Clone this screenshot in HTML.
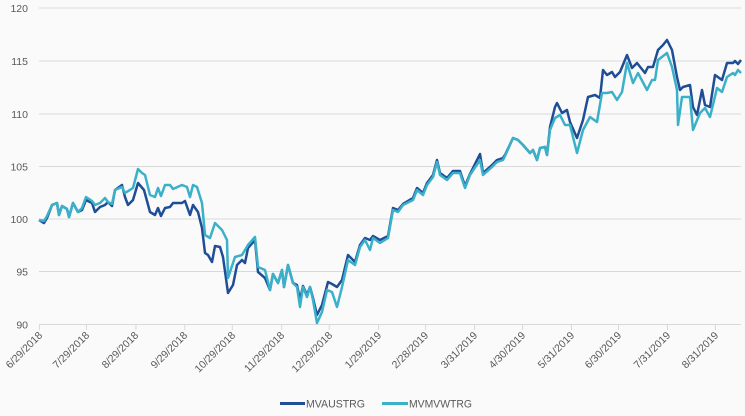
<!DOCTYPE html>
<html><head><meta charset="utf-8"><style>
html,body{margin:0;padding:0;background:#fafafa;}
svg{display:block;font-family:"Liberation Sans",sans-serif;}
</style></head><body>
<svg width="745" height="416" viewBox="0 0 745 416">
<rect width="745" height="416" fill="#fafafa"/>
<g stroke="#d9d9d9" stroke-width="1">
<line x1="39" y1="8" x2="741" y2="8"/>
<line x1="39" y1="61" x2="741" y2="61"/>
<line x1="39" y1="114" x2="741" y2="114"/>
<line x1="39" y1="166.5" x2="741" y2="166.5"/>
<line x1="39" y1="219" x2="741" y2="219"/>
<line x1="39" y1="271.5" x2="741" y2="271.5"/>
<line x1="39" y1="324.5" x2="741" y2="324.5"/>
<g>
<line x1="39.4" y1="324" x2="39.4" y2="330"/><line x1="86.5" y1="324" x2="86.5" y2="330"/><line x1="135.9" y1="324" x2="135.9" y2="330"/><line x1="184.8" y1="324" x2="184.8" y2="330"/><line x1="232.3" y1="324" x2="232.3" y2="330"/><line x1="281.7" y1="324" x2="281.7" y2="330"/><line x1="329.2" y1="324" x2="329.2" y2="330"/><line x1="378.6" y1="324" x2="378.6" y2="330"/><line x1="425.6" y1="324" x2="425.6" y2="330"/><line x1="474.6" y1="324" x2="474.6" y2="330"/><line x1="522.6" y1="324" x2="522.6" y2="330"/><line x1="571.5" y1="324" x2="571.5" y2="330"/><line x1="618.5" y1="324" x2="618.5" y2="330"/><line x1="667.5" y1="324" x2="667.5" y2="330"/><line x1="715.4" y1="324" x2="715.4" y2="330"/>
</g></g>
<g font-size="10.5" fill="#595959" text-anchor="end">
<text x="28" y="12">120</text><text x="28" y="65">115</text><text x="28" y="118">110</text><text x="28" y="170.5">105</text><text x="28" y="223">100</text><text x="28" y="275.5">95</text><text x="28" y="328.5">90</text>
</g>
<g font-size="10.5" fill="#595959" text-anchor="end">
<text transform="translate(43,336) rotate(-45)">6/29/2018</text>
<text transform="translate(90,336) rotate(-45)">7/29/2018</text>
<text transform="translate(139,336) rotate(-45)">8/29/2018</text>
<text transform="translate(188,336) rotate(-45)">9/29/2018</text>
<text transform="translate(236,336) rotate(-45)">10/29/2018</text>
<text transform="translate(285,336) rotate(-45)">11/29/2018</text>
<text transform="translate(333,336) rotate(-45)">12/29/2018</text>
<text transform="translate(382,336) rotate(-45)">1/29/2019</text>
<text transform="translate(429,336) rotate(-45)">2/28/2019</text>
<text transform="translate(478,336) rotate(-45)">3/31/2019</text>
<text transform="translate(526,336) rotate(-45)">4/30/2019</text>
<text transform="translate(575,336) rotate(-45)">5/31/2019</text>
<text transform="translate(622,336) rotate(-45)">6/30/2019</text>
<text transform="translate(671,336) rotate(-45)">7/31/2019</text>
<text transform="translate(719,336) rotate(-45)">8/31/2019</text>
</g>
<polyline fill="none" stroke="#1f4e96" stroke-width="2.5" stroke-linejoin="round" points="39,220 44,223 47,218 52,205 57,203 59,215 62,206 67,209 69,217 73,203 78,212 82,210 86,200 92,203 95,212 100,207 105,205 108,202 112,206 115,190 122,185 125,197 128,205 133,200 138,183 144,190 150,212 155,215 158,208 161,216 165,208 170,207 173,203 182,203 185,201 190,215 193,205 198,212 202,228 205,253 208,255 212,262 215,246 220,247 223,257 228,293 233,285 237,265 242,260 245,263 248,248 255,240 258,272 265,278 270,290 273,274 278,283 282,270 284,287 288,265 293,283 297,285 300,300 303,286 307,295 310,287 313,298 317,315 322,305 328,282 332,284 337,287 342,280 348,255 355,262 360,245 365,238 370,240 373,236 380,240 388,236 393,208 398,210 403,204 413,198 417,188 423,193 427,183 433,175 437,160 440,173 447,178 453,171 460,171 465,186 470,174 480,154 483,173 492,165 497,160 503,158 505,155 513,138 518,140 523,145 530,153 533,150 537,160 540,148 545,147 547,155 550,127 555,107 557,103 562,113 567,110 570,122 577,138 583,120 588,97 595,95 600,98 603,70 607,75 612,72 615,77 620,72 627,55 632,68 637,63 645,73 648,67 653,67 658,50 663,45 667,40 672,50 677,77 680,90 683,87 690,85 693,107 697,115 702,90 705,105 710,107 715,75 722,80 727,63 733,63 735,61 738,64 741,60"/>
<polyline fill="none" stroke="#3bb0c9" stroke-width="2.5" stroke-linejoin="round" points="39,220 44,221 47,216 52,205 57,203 59,215 62,206 67,209 69,217 73,203 78,212 82,208 86,197 92,201 95,205 100,203 105,198 108,202 112,204 115,190 122,187 125,193 133,188 138,169 142,173 145,175 150,195 155,197 158,188 161,196 165,185 170,185 173,189 182,185 187,187 190,197 193,185 197,187 202,203 205,235 210,238 215,223 222,230 227,240 228,278 235,257 242,255 248,245 255,237 258,267 265,270 270,290 273,274 278,283 282,270 284,287 288,265 293,283 297,287 300,307 303,287 307,297 310,287 313,300 317,323 322,312 327,290 332,292 337,307 342,287 348,260 355,265 360,247 365,240 370,250 373,238 380,243 388,238 393,210 398,212 403,205 413,200 417,190 423,195 427,185 433,177 437,162 440,175 447,180 453,173 460,173 465,188 470,175 480,160 483,175 492,167 497,162 503,160 505,156 513,138 518,140 523,145 530,153 533,150 537,160 540,148 545,147 547,155 550,130 555,118 560,115 565,125 570,125 577,153 583,130 590,117 597,122 602,93 607,93 612,92 617,100 622,92 627,63 633,83 638,73 647,90 652,80 655,80 658,60 667,53 672,67 677,90 678,125 682,97 690,97 693,130 700,113 705,108 710,117 717,88 722,92 727,77 733,73 735,75 738,70 741,73"/>
<line x1="280" y1="403.5" x2="305" y2="403.5" stroke="#1f4e96" stroke-width="3"/>
<text x="306" y="407.5" font-size="11" fill="#595959" textLength="59" lengthAdjust="spacingAndGlyphs">MVAUSTRG</text>
<line x1="382" y1="403.5" x2="408" y2="403.5" stroke="#3bb0c9" stroke-width="3"/>
<text x="409" y="407.5" font-size="11" fill="#595959" textLength="63" lengthAdjust="spacingAndGlyphs">MVMVWTRG</text>
</svg>
</body></html>
